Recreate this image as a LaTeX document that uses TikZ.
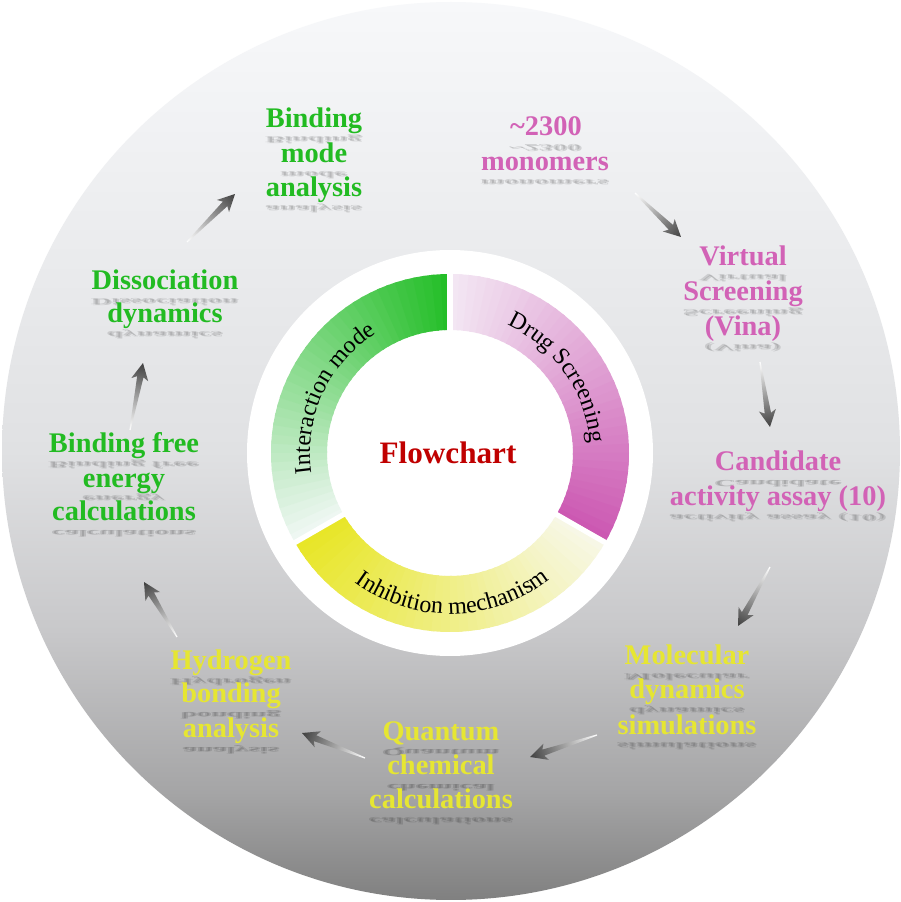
\documentclass[tikz,border=0pt]{standalone}
\usepackage{fontspec}
\setmainfont{Liberation Serif}
\usetikzlibrary{calc,decorations.text}
\usepackage{xcolor}
\definecolor{bgA}{RGB}{128,128,128}
\definecolor{bgB}{RGB}{165,165,166}
\definecolor{bgC}{RGB}{200,200,202}
\definecolor{bgD}{RGB}{224,225,227}
\definecolor{bgE}{RGB}{238,239,241}
\definecolor{bgF}{RGB}{247,248,250}
\definecolor{dsLight}{HTML}{F3E6F3}
\definecolor{dsDark}{HTML}{CC58B2}
\definecolor{imLight}{HTML}{EEF7F2}
\definecolor{imDark}{HTML}{24BE28}
\definecolor{ihLight}{HTML}{F7F7E6}
\definecolor{ihDark}{HTML}{E8E628}
\definecolor{pinkT}{HTML}{D262B6}
\definecolor{greenT}{HTML}{22BB22}
\definecolor{yellowT}{HTML}{E6E632}
\definecolor{flowred}{HTML}{C00000}
\pgfdeclareverticalshading{bgdisc}{100bp}{color(0bp)=(bgA); color(25bp)=(bgA);
  color(31bp)=(bgB); color(40bp)=(bgC); color(50bp)=(bgD); color(65bp)=(bgE);
  color(75bp)=(bgF); color(100bp)=(bgF)}
\newcommand{\ringfont}{\fontsize{12}{12}\selectfont}
\tikzset{
  steptext/.style={anchor=base,inner sep=0pt,font=\fontsize{14.2}{17}\selectfont\bfseries},
  mirror/.style={steptext,text=black,text opacity=0.12,yscale=-0.33,transform shape},
  ringtext/.style={decorate,decoration={text along path,text align=center,text={#1}}},
}
% one line of a step label, with its faint blurred mirror image
\newcommand{\stepline}[5]{%
  \node[mirror] (#1m) at ([xshift=-0.5pt]#2,#3-9) {#5};
  \node[mirror] (#1n) at ([xshift=0.5pt]#2,#3-9.6) {#5};
  \node[steptext,text=#4] (#1) at (#2,#3) {#5};}
% shaded arrow from one coordinate to another
\newcommand{\flowarrow}[2]{%
  \path let \p1=($(#2)-(#1)$) in
    \pgfextra{\pgfmathparse{atan2(\y1,\x1)}\xdef\arrang{\pgfmathresult}%
      \pgfmathparse{veclen(\x1,\y1)}\xdef\arrlen{\pgfmathresult}};
  \begin{scope}[transform canvas={shift={(#1)},rotate=\arrang}]
    \shade[left color=white,right color=black!75]
      (0pt,-0.3pt) -- ({\arrlen pt-7pt},-1.6pt) -- ({\arrlen pt-8.5pt},-4.3pt)
      -- (\arrlen pt,0pt) -- ({\arrlen pt-8.5pt},4.3pt) -- ({\arrlen pt-7pt},1.6pt)
      -- (0pt,0.3pt) -- cycle;
  \end{scope}}
% ring segment with colour running along the angle
\newcommand{\ringpart}[4]{%
  \foreach \k in {0,...,39}{
    \pgfmathsetmacro\aa{#1+(#2-#1)*\k/40}
    \pgfmathsetmacro\bb{#1+(#2-#1)*(\k+1.3)/40}
    \pgfmathtruncatemacro\pp{100*\k/39}
    \fill[#4!\pp!#3] (\aa:123) arc[start angle=\aa,end angle=\bb,radius=123]
      -- (\bb:179) arc[start angle=\bb,end angle=\aa,radius=179] -- cycle;
  }}

\begin{document}
\begin{tikzpicture}[x=0.5pt,y=0.5pt]
  \useasboundingbox[fill=white] (0,0) rectangle (901,902);
  \shade[shading=bgdisc] (451,451) circle[radius=449];
  \fill[white] (450,449) circle[radius=203];

  \begin{scope}[shift={(450,449)}]
    \ringpart{90}{-30}{dsLight}{dsDark}
    \ringpart{210}{90}{imLight}{imDark}
    \ringpart{210}{330}{ihDark}{ihLight}
    \foreach \g in {90,-30,210}
      \draw[white,line width=2.6pt] (\g:118) -- (\g:184);
    \path[ringtext={|\ringfont|Drug Screening}] (95:140) arc[start angle=95,end angle=-25,radius=140];
    \path[ringtext={|\ringfont|Interaction mode}] (215:140) arc[start angle=215,end angle=95,radius=140];
    \path[ringtext={|\ringfont|Inhibition mechanism}] (200:161) arc[start angle=200,end angle=342,radius=161];
  \end{scope}
  \node[font=\fontsize{15.6}{16}\selectfont\bfseries,text=flowred] (flow) at (448,449) {Flowchart};

  % step labels
  \stepline{mon1}{546}{766}{pinkT}{\textasciitilde 2300}
  \stepline{mon2}{545}{731}{pinkT}{monomers}
  \stepline{vs1}{743}{636}{pinkT}{Virtual}
  \stepline{vs2}{743}{601}{pinkT}{Screening}
  \stepline{vs3}{743}{566}{pinkT}{(Vina)}
  \stepline{ca1}{778}{431}{pinkT}{Candidate}
  \stepline{ca2}{778}{396}{pinkT}{activity assay (10)}
  \stepline{md1}{687}{237}{yellowT}{Molecular}
  \stepline{md2}{687}{203}{yellowT}{dynamics}
  \stepline{md3}{687}{168}{yellowT}{simulations}
  \stepline{qc1}{441}{162}{yellowT}{Quantum}
  \stepline{qc2}{441}{127}{yellowT}{chemical}
  \stepline{qc3}{441}{93}{yellowT}{calculations}
  \stepline{hb1}{231}{232}{yellowT}{Hydrogen}
  \stepline{hb2}{231}{199}{yellowT}{bonding}
  \stepline{hb3}{231}{164}{yellowT}{analysis}
  \stepline{fe1}{124}{449}{greenT}{Binding free}
  \stepline{fe2}{124}{415}{greenT}{energy}
  \stepline{fe3}{124}{381}{greenT}{calculations}
  \stepline{dd1}{165}{612}{greenT}{Dissociation}
  \stepline{dd2}{165}{579}{greenT}{dynamics}
  \stepline{bm1}{314}{774}{greenT}{Binding}
  \stepline{bm2}{314}{739}{greenT}{mode}
  \stepline{bm3}{314}{705}{greenT}{analysis}

  % arrow ends
  \coordinate (a1s) at (635,709); \coordinate (a1e) at (681,665);
  \coordinate (a2s) at (760,540); \coordinate (a2e) at (770,475);
  \coordinate (a3s) at (770,335); \coordinate (a3e) at (738,276);
  \coordinate (a4s) at (597,167); \coordinate (a4e) at (530,145);
  \coordinate (a5s) at (365,144); \coordinate (a5e) at (302,169);
  \coordinate (a6s) at (177,265); \coordinate (a6e) at (144,320);
  \coordinate (a7s) at (130,472); \coordinate (a7e) at (143,539);
  \coordinate (a8s) at (187,660); \coordinate (a8e) at (235,708);
  \foreach \i in {1,...,8}{
    \flowarrow{a\i s}{a\i e}
  }
\end{tikzpicture}
\end{document}
